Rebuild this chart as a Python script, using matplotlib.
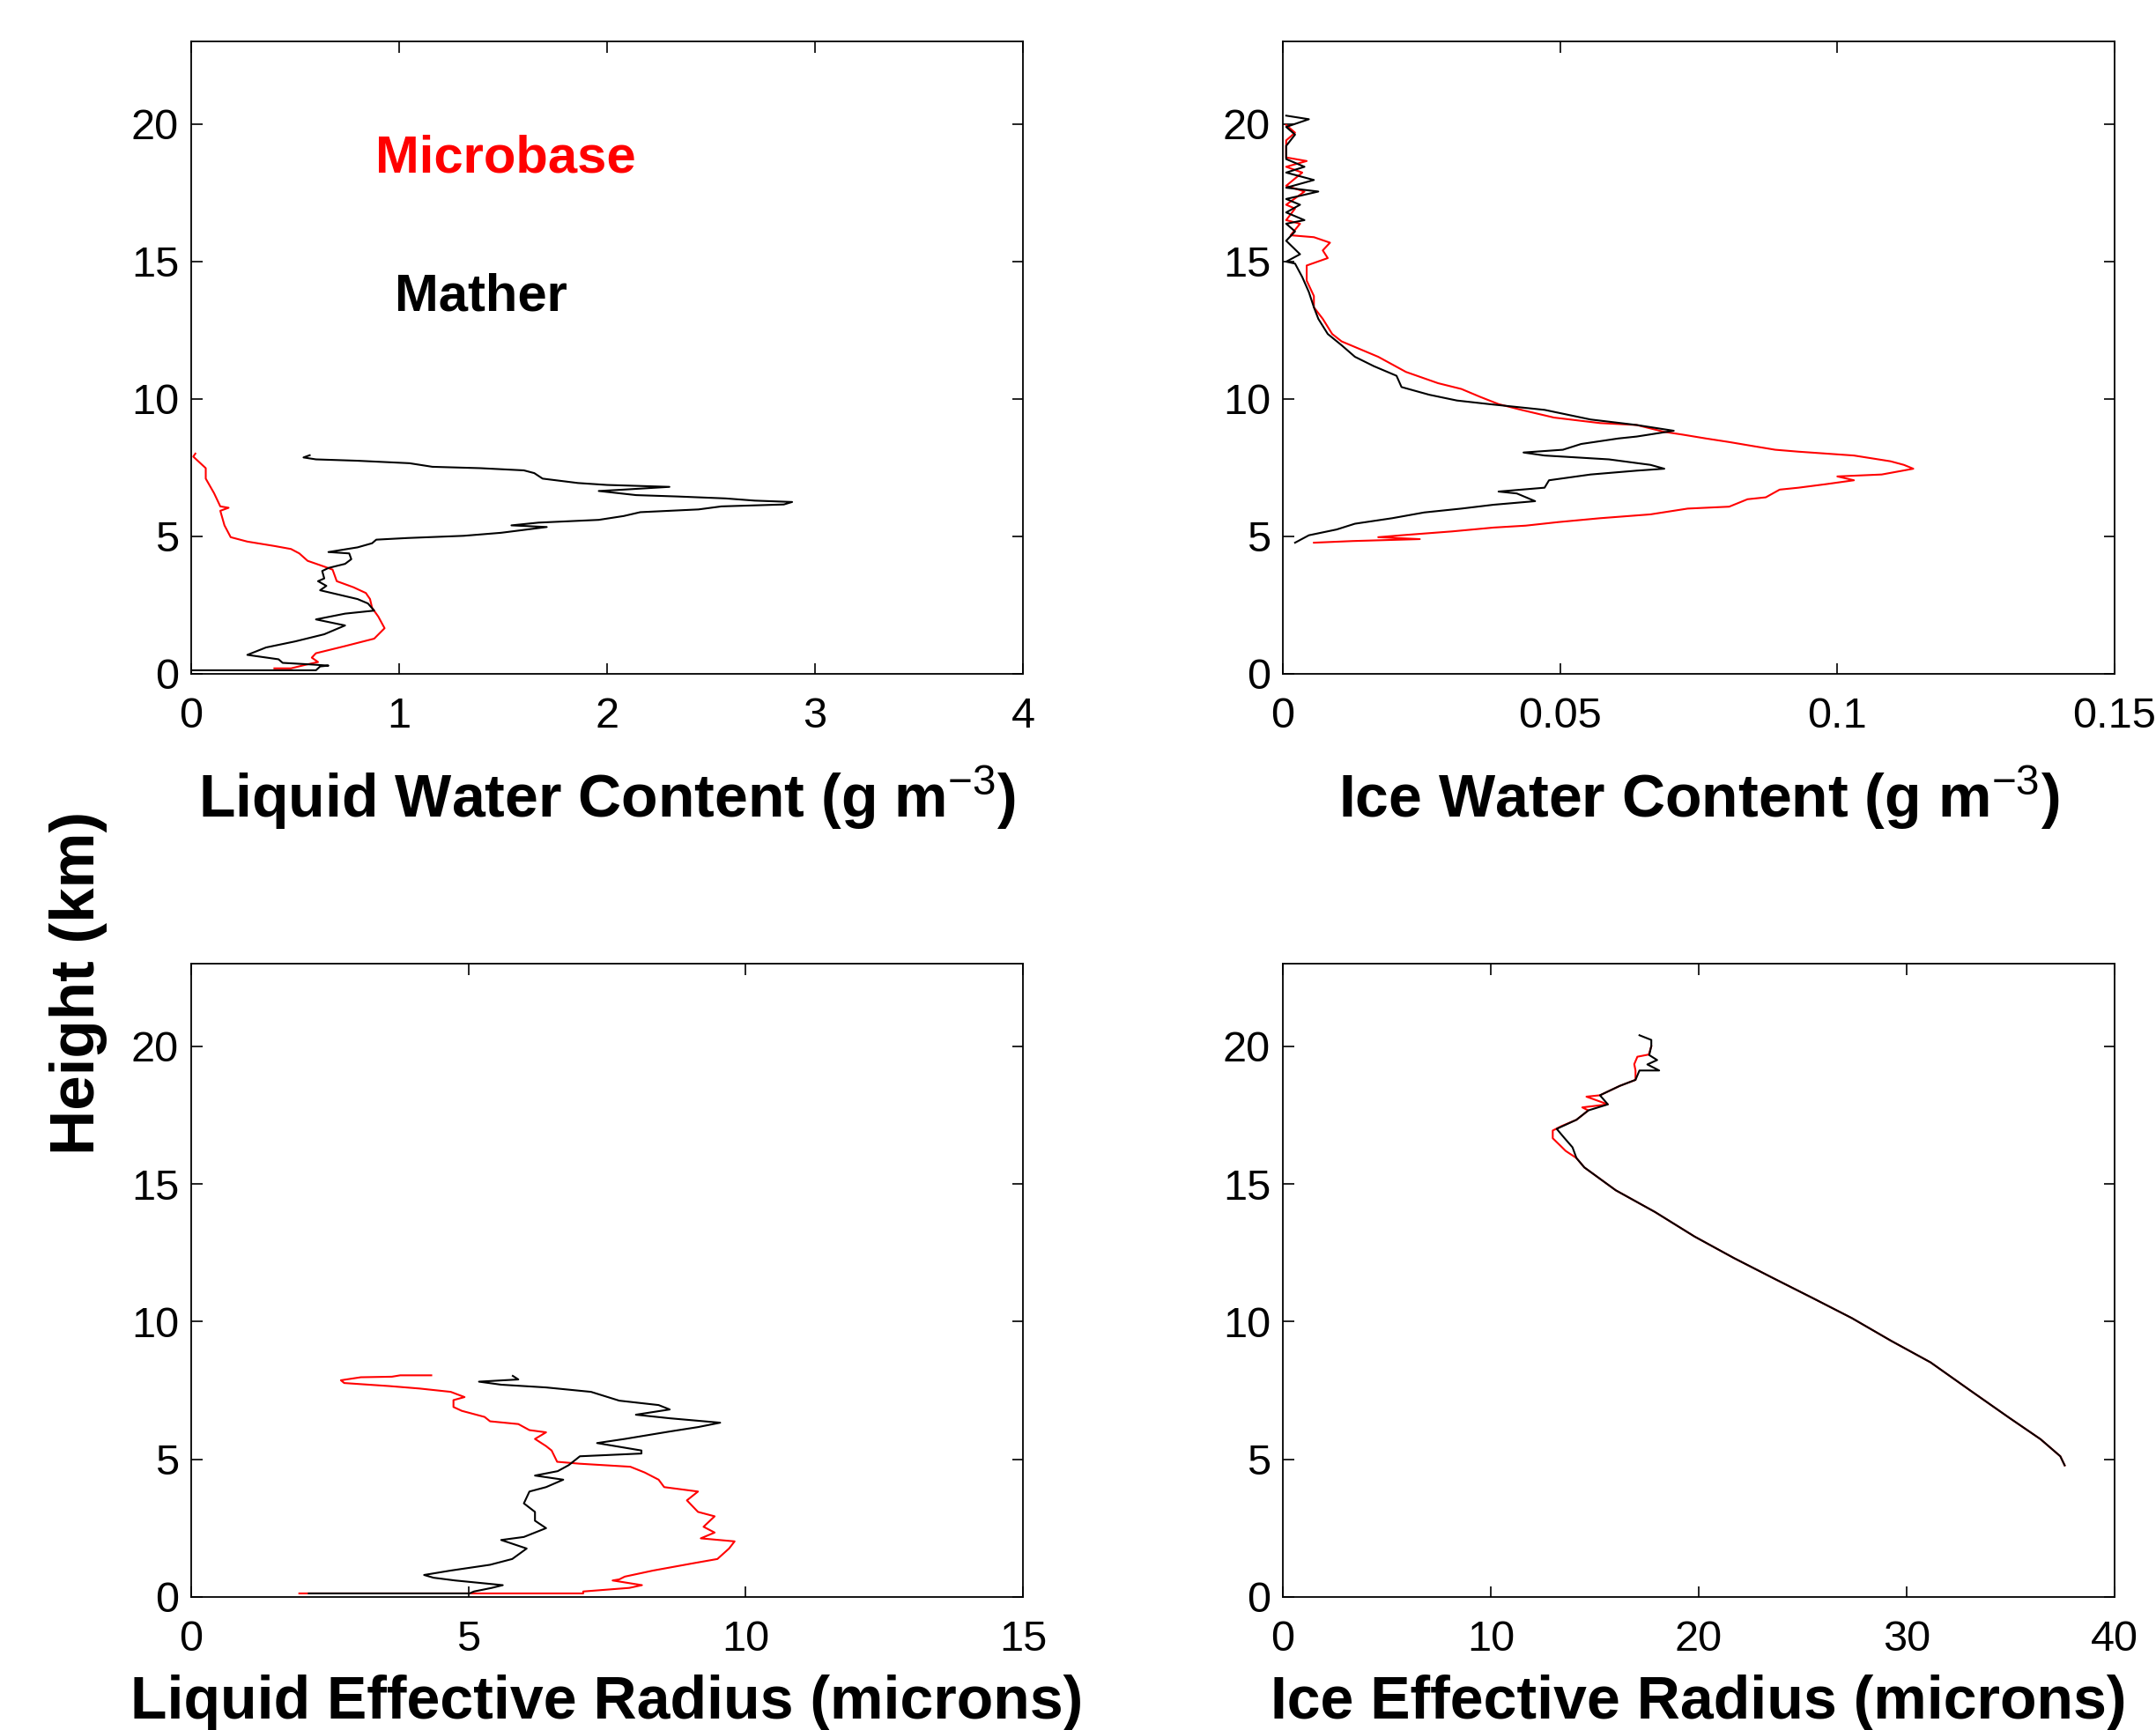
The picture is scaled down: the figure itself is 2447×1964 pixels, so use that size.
import matplotlib
matplotlib.use("Agg")
import matplotlib.pyplot as plt

plt.rcParams['font.family'] = ['Liberation Sans', 'DejaVu Sans']
plt.rcParams['mathtext.fontset'] = 'custom'
plt.rcParams['mathtext.rm'] = 'Liberation Sans'
plt.rcParams['mathtext.it'] = 'Liberation Sans'
plt.rcParams['mathtext.bf'] = 'Liberation Sans:bold'

# ---------------- data: (height km, value) ----------------
lwc_mather = [(7.95,0.57),(7.87,0.54),(7.8,0.6),(7.75,0.8),(7.66,1.05),(7.53,1.16),(7.48,1.39),
              (7.4,1.6),(7.3,1.65),(7.1,1.69),(6.94,1.86),(6.87,2.0),(6.8,2.3),(6.7,2.08),(6.65,1.96),
              (6.5,2.14),(6.45,2.34),(6.38,2.57),(6.3,2.71),(6.25,2.89),(6.16,2.85),(6.09,2.55),
              (5.98,2.44),(5.88,2.16),(5.74,2.08),(5.6,1.96),(5.5,1.67),(5.4,1.54),(5.34,1.71),
              (5.13,1.49),(5.02,1.31),(4.94,1.04),(4.88,0.89),(4.75,0.87),(4.6,0.80),(4.43,0.66),
              (4.38,0.76),(4.17,0.77),(4.0,0.74),(3.85,0.66),(3.74,0.63),(3.47,0.64),(3.37,0.61),
              (3.2,0.65),(3.04,0.62),(2.88,0.71),(2.72,0.80),(2.56,0.85),(2.3,0.88),(2.19,0.74),
              (1.98,0.60),(1.76,0.74),(1.44,0.64),(1.18,0.50),(0.96,0.36),(0.69,0.27),(0.53,0.42),
              (0.4,0.44),(0.34,0.58),(0.3,0.66),(0.27,0.62),(0.13,0.60),(0.13,0.0)]
lwc_microbase = [(8.01,0.02),(7.9,0.01),(7.48,0.07),(7.1,0.07),(6.57,0.11),(6.09,0.14),(6.04,0.18),
                 (5.93,0.14),(5.4,0.16),(4.97,0.19),(4.81,0.27),(4.65,0.40),(4.54,0.48),(4.38,0.52),
                 (4.11,0.56),(3.9,0.64),(3.79,0.68),(3.37,0.70),(3.15,0.78),(2.94,0.84),(2.72,0.86),
                 (2.4,0.87),(2.08,0.90),(1.66,0.93),(1.28,0.88),(1.01,0.74),(0.75,0.60),(0.59,0.58),
                 (0.43,0.61),(0.33,0.55),(0.2,0.48),(0.2,0.40)]

iwc_microbase = [(4.77,0.0056),(4.83,0.0126),(4.9,0.0247),(4.97,0.0172),(5.04,0.0214),(5.18,0.0305),
                 (5.32,0.038),(5.39,0.0438),(5.52,0.0497),(5.66,0.0572),(5.8,0.0663),(6.01,0.073),
                 (6.08,0.0805),(6.35,0.0838),(6.42,0.0871),(6.7,0.0896),(6.77,0.093),(6.9,0.098),
                 (7.04,0.103),(7.18,0.100),(7.25,0.108),(7.46,0.1137),(7.6,0.112),(7.73,0.1096),
                 (7.94,0.103),(8.08,0.093),(8.15,0.0888),(8.29,0.0846),(8.43,0.0805),(8.56,0.0763),
                 (8.7,0.0721),(8.8,0.0688),(9.05,0.0638),(9.12,0.0572),(9.32,0.0489),(9.6,0.043),
                 (9.81,0.0389),(10.08,0.0355),(10.36,0.0322),(10.57,0.028),(10.98,0.0222),(11.53,0.0172),
                 (11.81,0.0139),(12.09,0.0106),(12.36,0.0089),(12.91,0.0072),(13.33,0.0056),(13.74,0.0056),
                 (14.3,0.0043),(14.85,0.0043),(15.12,0.0081),(15.4,0.0072),(15.68,0.0085),(15.88,0.0056),
                 (15.95,0.0014),(16.37,0.0031),(16.5,0.0006),(16.92,0.0022),(17.06,0.0006),(17.54,0.0039),
                 (17.75,0.0006),(18.23,0.0035),(18.44,0.0006),(18.65,0.0043),(18.78,0.0006),(19.4,0.0006),
                 (19.68,0.0022),(19.96,0.0006)]
iwc_mather = [(4.77,0.0022),(5.04,0.0047),(5.25,0.0097),(5.46,0.013),(5.66,0.0197),(5.87,0.0255),
              (6.01,0.0322),(6.15,0.038),(6.28,0.0455),(6.56,0.0422),(6.63,0.0389),(6.77,0.0472),
              (7.04,0.048),(7.25,0.0555),(7.39,0.0638),(7.46,0.0688),(7.6,0.0663),(7.8,0.0588),
              (7.94,0.0472),(8.05,0.0434),(8.15,0.0505),(8.36,0.0538),(8.56,0.0605),(8.63,0.0638),
              (8.84,0.0705),(9.05,0.0638),(9.25,0.0555),(9.6,0.0472),(9.81,0.0372),(9.94,0.0314),
              (10.15,0.0264),(10.43,0.0214),(10.84,0.0205),(11.19,0.0164),(11.53,0.013),(11.95,0.0106),
              (12.36,0.0081),(12.91,0.0064),(13.33,0.0056),(13.88,0.0047),(14.43,0.0035),(14.92,0.0022),
              (14.99,0.0006),(15.26,0.0031),(15.75,0.0006),(16.09,0.0022),(16.37,0.0006),(16.5,0.0039),
              (16.78,0.0006),(17.06,0.0031),(17.27,0.0006),(17.54,0.0064),(17.68,0.0006),(17.96,0.0056),
              (18.23,0.0006),(18.44,0.0039),(18.72,0.0006),(19.2,0.0006),(19.61,0.0022),(19.89,0.0006),
              (20.17,0.0047),(20.3,0.0006)]

ler_microbase = [(8.05,4.33),(8.05,3.77),(8.0,3.62),(7.98,3.06),(7.87,2.7),(7.77,2.76),(7.66,3.57),
                 (7.57,4.12),(7.45,4.68),(7.26,4.93),(7.15,4.73),(6.9,4.73),(6.76,4.88),(6.54,5.29),
                 (6.38,5.39),(6.28,5.9),(6.06,6.1),(5.98,6.4),(5.74,6.2),(5.48,6.4),(5.32,6.5),
                 (4.91,6.6),(4.84,7.01),(4.73,7.92),(4.52,8.18),(4.26,8.43),(3.99,8.53),(3.83,9.14),
                 (3.51,8.94),(3.09,9.14),(2.93,9.44),(2.55,9.24),(2.34,9.44),(2.13,9.19),(2.02,9.8),
                 (1.76,9.7),(1.38,9.49),(1.22,9.04),(0.96,8.33),(0.74,7.82),(0.64,7.72),(0.6,7.6),
                 (0.43,8.13),(0.33,7.9),(0.2,7.07),(0.13,7.07),(0.13,1.95)]
ler_mather = [(8.03,5.8),(7.9,5.9),(7.82,5.19),(7.71,5.59),(7.61,6.4),(7.45,7.21),(7.13,7.72),
              (6.97,8.43),(6.81,8.63),(6.62,8.02),(6.49,8.63),(6.33,9.54),(6.17,9.14),(6.01,8.63),
              (5.74,7.82),(5.59,7.32),(5.32,8.12),(5.21,8.12),(5.11,7.01),(4.79,6.81),(4.57,6.61),
              (4.41,6.2),(4.26,6.71),(3.99,6.4),(3.83,6.1),(3.4,6.0),(3.09,6.2),(2.77,6.2),(2.5,6.4),
              (2.18,6.0),(2.07,5.59),(1.76,6.05),(1.38,5.79),(1.17,5.39),(0.96,4.68),(0.8,4.2),
              (0.7,4.37),(0.6,4.76),(0.43,5.62),(0.33,5.42),(0.2,5.1),(0.13,5.02),(0.13,2.12)]

ier_microbase = [(4.78,37.6),(5.11,37.39),(5.73,36.44),(6.51,34.93),(7.51,33.04),(8.52,31.15),
                 (9.3,29.26),(10.13,27.36),(10.86,25.47),(11.58,23.58),(12.31,21.69),(13.09,19.8),
                 (13.98,17.9),(14.77,16.01),(15.6,14.5),(15.94,14.12),(16.2,13.6),(16.38,13.36),
                 (16.66,12.98),(16.94,12.98),(17.1,13.4),(17.33,14.12),(17.67,14.69),(17.78,14.4),
                 (17.89,15.63),(18.17,14.6),(18.22,15.25),(18.56,16.2),(18.78,16.96),(19.12,16.96),
                 (19.35,16.9),(19.62,17.05),(19.7,17.6),(20.0,17.72)]
ier_mather = [(4.78,37.6),(5.11,37.39),(5.73,36.44),(6.51,34.93),(7.51,33.04),(8.52,31.15),
              (9.3,29.26),(10.13,27.36),(10.86,25.47),(11.58,23.58),(12.31,21.69),(13.09,19.8),
              (13.98,17.9),(14.77,16.01),(15.6,14.5),(15.94,14.12),(16.33,13.93),(16.66,13.55),
              (17.0,13.17),(17.33,14.12),(17.67,14.69),(17.89,15.63),(18.22,15.25),(18.56,16.2),
              (18.78,16.96),(19.12,17.15),(19.12,18.1),(19.34,17.53),(19.5,18.0),(19.68,17.62),
              (20.01,17.72),(20.23,17.72),(20.4,17.15)]

panels = [
    dict(red=lwc_microbase, black=lwc_mather, xlim=(0, 4), xticks=[0, 1, 2, 3, 4],
         xticklabels=['0', '1', '2', '3', '4'],
         xlabel=r'Liquid Water Content (g m$^{-3}$)', labelpad=22),
    dict(red=iwc_microbase, black=iwc_mather, xlim=(0, 0.15), xticks=[0, 0.05, 0.1, 0.15],
         xticklabels=['0', '0.05', '0.1', '0.15'],
         xlabel=r'Ice Water Content (g m$^{-3}$)', labelpad=22),
    dict(red=ler_microbase, black=ler_mather, xlim=(0, 15), xticks=[0, 5, 10, 15],
         xticklabels=['0', '5', '10', '15'],
         xlabel='Liquid Effective Radius (microns)', labelpad=12),
    dict(red=ier_microbase, black=ier_mather, xlim=(0, 40), xticks=[0, 10, 20, 30, 40],
         xticklabels=['0', '10', '20', '30', '40'],
         xlabel='Ice Effective Radius (microns)', labelpad=12),
]
yticks = [0, 5, 10, 15, 20]

W, H = 2447, 1964
fig = plt.figure(figsize=(W / 100, H / 100), dpi=100)
rects = [(217, 47, 1161, 765), (1456, 47, 2400, 765),
         (217, 1094, 1161, 1813), (1456, 1094, 2400, 1813)]

for p, (x0, y0, x1, y1) in zip(panels, rects):
    ax = fig.add_axes([x0 / W, 1 - y1 / H, (x1 - x0) / W, (y1 - y0) / H])
    zr, vr = zip(*p['red'])
    zb, vb = zip(*p['black'])
    ax.plot(vr, zr, color='#ff0000', lw=1.5)
    ax.plot(vb, zb, color='black', lw=1.5)
    ax.set_xlim(*p['xlim'])
    ax.set_ylim(0, 23)
    ax.set_xticks(p['xticks'])
    ax.set_xticklabels(p['xticklabels'])
    ax.set_yticks(yticks)
    ax.set_yticklabels([str(v) for v in yticks])
    ax.tick_params(direction='in', length=9, width=1.2, top=True, right=True,
                   labelsize=35)
    ax.tick_params(axis='x', pad=19)
    ax.tick_params(axis='y', pad=10)
    for s in ax.spines.values():
        s.set_linewidth(1.3)
    ax.set_xlabel(p['xlabel'], fontsize=49, fontweight='bold', labelpad=p['labelpad'])
    if p is panels[0]:
        ax.text(1.51, 18.75, 'Microbase', color='#ff0000', fontsize=43, fontweight='bold',
                ha='center', va='center')
        ax.text(1.395, 13.7, 'Mather', color='black', fontsize=43, fontweight='bold',
                ha='center', va='center')

fig.text(89 / W, 1 - 1116 / H, 'Height (km)', rotation=90, fontsize=51, fontweight='bold',
         ha='center', va='center')

fig.savefig('out.png', dpi=100)
